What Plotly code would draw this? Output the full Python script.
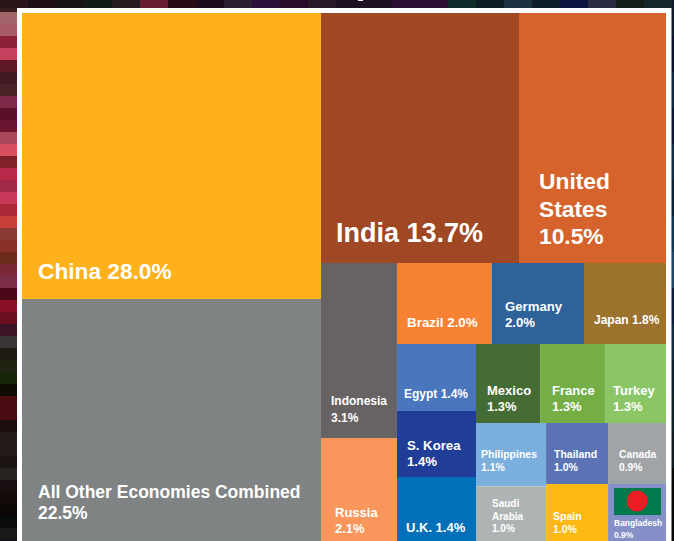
import plotly.graph_objects as go

W, H = 674, 541

# Economies and the share printed on each tile
economies = ["China", "All Other Economies Combined", "India", "United States", "Indonesia",
             "Russia", "Brazil", "Germany", "Japan", "Egypt", "S. Korea", "U.K.", "Mexico",
             "France", "Turkey", "Philippines", "Saudi Arabia", "Thailand", "Spain", "Canada",
             "Bangladesh"]
printed_share = [28.0, 22.5, 13.7, 10.5, 3.1, 2.1, 2.0, 2.0, 1.8, 1.4, 1.4, 1.4, 1.3, 1.3, 1.3,
                 1.1, 1.0, 1.0, 1.0, 0.9, 0.9]
# Share of the picture's map area that each tile really occupies (the source art is not to scale)
drawn_share = [25.15, 21.28, 14.56, 10.81, 3.91, 2.30, 2.26, 2.19, 1.95, 1.56, 1.53, 1.49, 1.49,
               1.51, 1.42, 1.30, 1.13, 1.11, 1.04, 1.04, 0.97]

# Nesting of the tiles; groups alternate between side-by-side and stacked
group_parent = {"left": "root", "right": "root", "top": "right", "lower": "right",
                "c1": "lower", "c2": "lower", "r1": "c2", "r2": "c2", "c3": "r2", "c4": "r2",
                "r3": "c4", "r4": "c4", "c5": "r4", "c6": "r4", "c7": "r4"}
tile_parent = ["left", "left", "top", "top", "c1", "c1", "r1", "r1", "r1", "c3", "c3", "c3",
               "r3", "r3", "r3", "c5", "c5", "c6", "c6", "c7", "c7"]
tile_colors = ["#FFB11B", "#7F8383", "#A04723", "#D5632B", "#676365", "#F9965B", "#F78234",
               "#2E6298", "#9B732C", "#4976BC", "#203E97", "#0170B9", "#446C34", "#74AE44",
               "#8BC665", "#7BAFDE", "#AEB4B4", "#5B73B5", "#FDB913", "#A0A4A7", "#8590C8"]

ids = ["root"] + list(group_parent) + economies
parents = [""] + list(group_parent.values()) + tile_parent
values = [0] * (1 + len(group_parent)) + drawn_share
colors = ["#FFFFFF"] * (1 + len(group_parent)) + tile_colors
hover = [""] * (1 + len(group_parent)) + [f"{n}: {s:.1f}%" for n, s in zip(economies, printed_share)]

fig = go.Figure(go.Treemap(
    ids=ids, labels=[""] * (1 + len(group_parent)) + economies, parents=parents, values=values,
    branchvalues="remainder", sort=False, textinfo="none", hovertext=hover, hoverinfo="text",
    tiling=dict(packing="slice-dice", pad=0),
    marker=dict(colors=colors, line=dict(width=0), pad=dict(t=0, l=0, r=0, b=0), depthfade=False),
    pathbar=dict(visible=False),
    domain=dict(x=[22 / W, 666 / W], y=[0, 1 - 13 / H]),
))

# Label placement: left edge, centre of each line, font size, and how the text is broken
label_layout = {
    "China": (37, [271], 22.7, "one"),
    "All Other Economies Combined": (37, [492, 513], 17.5, "share"),
    "India": (335, [233], 27, "one"),
    "United States": (538, [181, 209, 236], 22.8, "words"),
    "Indonesia": (330, [401, 418], 12, "share"),
    "Russia": (334, [512, 528], 13, "share"),
    "Brazil": (406, [322], 13.4, "one"),
    "Germany": (504, [306, 322], 13.2, "share"),
    "Japan": (593, [320], 12, "one"),
    "Egypt": (403, [394], 12, "one"),
    "S. Korea": (406, [445, 461], 13.2, "share"),
    "U.K.": (405, [527], 13, "one"),
    "Mexico": (486, [390, 406], 13, "share"),
    "France": (551, [390, 406], 13, "share"),
    "Turkey": (612, [390, 406], 13, "share"),
    "Philippines": (480, [454, 467], 10.5, "share"),
    "Saudi Arabia": (491, [503, 516, 528], 10, "words"),
    "Thailand": (553, [454, 467], 10.5, "share"),
    "Spain": (552, [516, 529], 10.5, "share"),
    "Canada": (618, [454, 467], 10.3, "share"),
    "Bangladesh": (613, [523, 535], 8.5, "share"),
}

annotations = []
for name, share in zip(economies, printed_share):
    x, ys, size, mode = label_layout[name]
    pct = f"{share:.1f}%"
    if mode == "one":
        lines = [f"{name} {pct}"]
    elif mode == "share":
        lines = [name, pct]
    else:
        lines = name.split(" ") + [pct]
    for line, y in zip(lines, ys):
        annotations.append(dict(
            x=x / W, y=1 - y / H, xref="paper", yref="paper", xanchor="left", yanchor="middle",
            text=f"<b>{line}</b>", showarrow=False, borderpad=0,
            font=dict(family="Liberation Sans", size=size, color="#FFFFFF"),
        ))

# Dark mosaic backdrop seen round the white panel
left_strip = ["#3a1c1e", "#a06468", "#a85a68", "#8c2038", "#c4405c", "#5e1828", "#431a22", "#4a2228",
              "#80284a", "#5a1028", "#6a1430", "#a84858", "#d85060", "#802028", "#b82848", "#a02848",
              "#c83858", "#a82838", "#c84038", "#8a3a34", "#8a3028", "#6a2c18", "#7a2838", "#7a2c48",
              "#4a0818", "#8a1028", "#6a1020", "#3a1424", "#3a3438", "#1e1a14", "#1e2410", "#182408",
              "#100c04", "#4a0c10", "#4a0c14", "#1c0c0c", "#241c18", "#241c18", "#1c1410", "#2a2420",
              "#181010", "#140c08", "#0c0806", "#0a0c0c", "#181818"]
top_strip = ["#2a1618", "#1c1014", "#181414", "#121a16", "#241c20", "#6a1e34", "#2a0a14", "#1c0c1c",
             "#2a2030", "#2a103a", "#2a0c2a", "#2a1828", "#1c1024", "#1c1024", "#2a0c34", "#2a0c34",
             "#0c2a28", "#0a1c24", "#1c3240", "#0c1c28", "#0e1440", "#2a2a40", "#141c1c", "#14282c"]
right_strip = ["#0c1c30", "#0a1030", "#0c2a44", "#0a1838", "#0c3048", "#0a2238", "#0c3a5a", "#1a4a70",
               "#0a1c40", "#102c40", "#0c2030", "#0c2428", "#0c1c20", "#060808", "#060606"]


def rect(x0, y0, x1, y1, color, layer="below", kind="rect"):
    return dict(type=kind, xref="paper", yref="paper", x0=x0 / W, x1=x1 / W, y0=1 - y1 / H,
                y1=1 - y0 / H, fillcolor=color, line=dict(width=0), layer=layer)


shapes = []
for i, c in enumerate(left_strip):
    shapes.append(rect(0, i * 12, 17, (i + 1) * 12, c))
for i, c in enumerate(top_strip):
    shapes.append(rect(i * 28, 0, (i + 1) * 28 + 1, 8, c))
for i, c in enumerate(right_strip):
    shapes.append(rect(671.5, i * 36, W, (i + 1) * 36 + 1, c))
shapes.append(rect(17, 8, 671.5, H, "#FFFFFF"))            # white panel
shapes.append(rect(358, 0, 363, 1, "#FFFFFF", "above"))    # foot of the cropped title
shapes.append(rect(614, 488, 661, 515, "#007A4D", "above"))            # flag of Bangladesh
shapes.append(rect(626.5, 490.5, 647.5, 511.5, "#EE1C25", "above", "circle"))

fig.update_layout(
    width=W, height=H, autosize=False, margin=dict(l=0, r=0, t=0, b=0),
    paper_bgcolor="#14101a", plot_bgcolor="#14101a", shapes=shapes, annotations=annotations,
    showlegend=False,
)
fig.write_html("out.html", config=dict(displayModeBar=False),
               post_script="document.body.style.margin='0';document.body.style.overflow='hidden';")
